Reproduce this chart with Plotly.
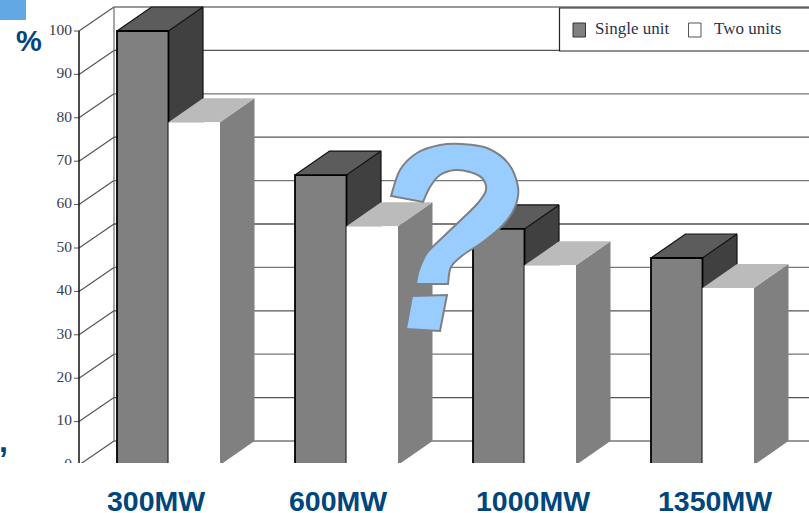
import plotly.graph_objects as go

# ---- data ----
categories = ["300MW", "600MW", "1000MW", "1350MW"]
single_unit = [100, 66.8, 54.4, 47.7]
two_units = [79, 55, 46, 40.8]
tick_values = [0, 10, 20, 30, 40, 50, 60, 70, 80, 90, 100]

# ---- layout geometry (x axis runs in canvas units) ----
W, H = 809, 513
PX_PER_UNIT = 4.34      # vertical canvas units per percent
ZERO_ROW = 465          # row of value 0 on the front plane
FLOOR_ROW = 463         # plot area ends here, slicing the base of the chart
DEPTH_X = 34.5
DEPTH_Y = 24 / PX_PER_UNIT
AXIS_X = 79
WALL_X = 114
BAR_START = 117
BAR_STEP = 178
BAR_W = 51.5
LABEL_X = [155.5, 338, 532.5, 714.5]
INK = "#00457C"

fig = go.Figure()


def poly(xs, ys, fill, line=None, width=0):
    fig.add_trace(go.Scatter(
        x=xs + xs[:1], y=ys + ys[:1], mode="lines", fill="toself", fillcolor=fill,
        line=dict(color=line or fill, width=width if line else 0),
        hoverinfo="skip", showlegend=False))


def seg(xs, ys, color, width=1):
    fig.add_trace(go.Scatter(x=xs, y=ys, mode="lines", line=dict(color=color, width=width),
                             hoverinfo="skip", showlegend=False))


# back wall and floor-to-wall guides
seg([WALL_X, WALL_X], [DEPTH_Y, 100 + DEPTH_Y], "#8a8a8a", 1.5)
for v in tick_values:
    seg([WALL_X, W], [v + DEPTH_Y, v + DEPTH_Y], "#555555" if v % 20 else "#777777", 1.3)
    seg([AXIS_X, WALL_X], [v, v + DEPTH_Y], "#555555", 1.2)
    seg([AXIS_X - 5, AXIS_X], [v, v], "#555555", 1)
seg([AXIS_X, AXIS_X], [0, 100], "#111111", 1.5)


def bar(x0, value, front, top, side, edge):
    x1 = x0 + BAR_W
    poly([x1, x1 + DEPTH_X, x1 + DEPTH_X, x1], [0, DEPTH_Y, value + DEPTH_Y, value], side)
    poly([x0, x1, x1 + DEPTH_X, x0 + DEPTH_X], [value, value, value + DEPTH_Y, value + DEPTH_Y], top)
    poly([x0, x1, x1, x0], [0, 0, value, value], front)
    if edge:
        seg([x0, x0, x1, x1], [0, value, value, 0], "#000000", 1.8)
        seg([x1, x1 + DEPTH_X, x1 + DEPTH_X], [value, value + DEPTH_Y, 0], "#111111", 1.2)
        seg([x0, x0 + DEPTH_X, x1 + DEPTH_X], [value, value + DEPTH_Y, value + DEPTH_Y], "#111111", 1.2)


for i in range(len(categories)):
    start = BAR_START + i * BAR_STEP
    bar(start, single_unit[i], "#808080", "#5c5c5c", "#404040", True)
    bar(start + BAR_W, two_units[i], "#ffffff", "#bbbbbb", "#808080", False)

# value labels live in the plot area so the lowest one is sliced by the floor
fig.add_trace(go.Scatter(
    x=[AXIS_X - 7] * len(tick_values), y=tick_values, mode="text",
    text=[str(v) for v in tick_values], textposition="middle left",
    textfont=dict(family="Liberation Serif", size=15.5, color="#3c3c4a"),
    cliponaxis=True, hoverinfo="skip", showlegend=False))

shapes = []
annotations = []


def canvas_rect(x0, y0, x1, y1, fill, line=None, width=1):
    shapes.append(dict(type="rect", xref="x", yref="y2", x0=x0, y0=y0, x1=x1, y1=y1,
                       fillcolor=fill, line=dict(color=line or fill, width=width if line else 0)))


def canvas_text(x, y, text, size, family, color, bold=False, anchor="center"):
    annotations.append(dict(xref="x", yref="y2", x=x, y=y, text=f"<b>{text}</b>" if bold else text,
                            showarrow=False, xanchor=anchor, yanchor="middle",
                            font=dict(family=family, size=size, color=color)))


# legend panel
canvas_rect(559.5, 8, 812, 51, "#ffffff", "#222222", 1.2)
canvas_rect(573, 23, 585.5, 37, "#808080", "#333333", 1)
canvas_rect(688.5, 23, 701, 37, "#ffffff", "#555555", 1)
canvas_text(593, 28.5, "Single unit", 17, "Liberation Serif", "#30304a", anchor="left")
canvas_text(712, 28.5, "Two units", 17, "Liberation Serif", "#30304a", anchor="left")

# surrounding slide elements
canvas_rect(0, 0, 26, 20, "#62a8e5")
canvas_text(29, 41, "%", 29, "Liberation Sans", INK, True)
canvas_text(3, 441, ",", 32, "Liberation Sans", INK, True)
for x, name in zip(LABEL_X, categories):
    canvas_text(x, 501, name, 28.5, "Liberation Sans", INK, True)


def smooth(points):
    # Catmull-Rom through the outline points, written as cubic Beziers
    out = f"L{points[0][0]:.1f},{points[0][1]:.1f}"
    for i in range(len(points) - 1):
        p0 = points[max(i - 1, 0)]
        p1 = points[i]
        p2 = points[i + 1]
        p3 = points[min(i + 2, len(points) - 1)]
        c1 = (p1[0] + (p2[0] - p0[0]) / 6, p1[1] + (p2[1] - p0[1]) / 6)
        c2 = (p2[0] - (p3[0] - p1[0]) / 6, p2[1] - (p3[1] - p1[1]) / 6)
        out += f" C{c1[0]:.1f},{c1[1]:.1f} {c2[0]:.1f},{c2[1]:.1f} {p2[0]:.1f},{p2[1]:.1f}"
    return out


# large question mark laid over the bars
outer = [(391, 196), (400, 170), (417, 153), (440, 145), (462, 144), (487, 148),
         (508, 163), (518, 187), (515, 207), (503, 225), (483, 242), (463, 255),
         (451, 267), (448, 284)]
inner = [(416, 284), (419, 270), (427, 253), (443, 237), (463, 218), (478, 203),
         (486, 190), (482, 178), (470, 172), (455, 170), (440, 175), (430, 187), (423, 202)]
stem = "M" + smooth(outer)[1:] + " L416,284 " + smooth(inner) + " Z"
dot = "M412,296 L447,295 L440,331 L406,329 Z"
for d in (stem, dot):
    shapes.append(dict(type="path", xref="x", yref="y2", path=d, fillcolor="#99ccff",
                       line=dict(color="#808080", width=2)))

fig.update_layout(
    width=W, height=H, margin=dict(l=0, r=0, t=0, b=0),
    paper_bgcolor="#ffffff", plot_bgcolor="rgba(0,0,0,0)", showlegend=False,
    xaxis=dict(range=[0, W], visible=False, fixedrange=True),
    yaxis=dict(range=[(ZERO_ROW - FLOOR_ROW) / PX_PER_UNIT, ZERO_ROW / PX_PER_UNIT],
               domain=[(H - FLOOR_ROW) / H, 1], visible=False, fixedrange=True),
    yaxis2=dict(range=[H, 0], domain=[0, 1], anchor="x", visible=False, fixedrange=True),
    shapes=shapes, annotations=annotations,
)

fig.write_html("out.html", config=dict(displayModeBar=False))
